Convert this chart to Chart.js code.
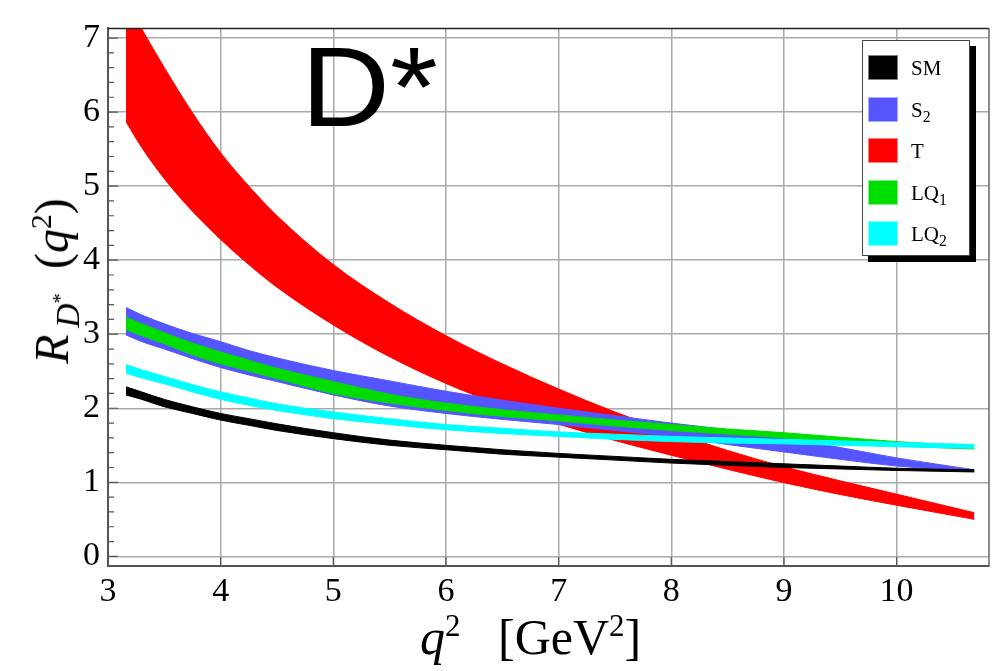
<!DOCTYPE html>
<html>
<head>
<meta charset="utf-8">
<script src="https://cdn.jsdelivr.net/npm/chart.js@4.4.1/dist/chart.umd.min.js"></script>
<style>
  body { margin: 0; background: #fff; }
  #wrap { position: relative; width: 995px; height: 671px; overflow: hidden; font-family: 'Liberation Serif', serif; }
  #chart { position: absolute; left: 0; top: 0; }
  .label { position: absolute; white-space: nowrap; color: #000; }
  #dstar { left: 301px; top: 30px; font-family: 'Liberation Sans', Arial, sans-serif; font-size: 114px; line-height: 1;
           transform: scaleX(1.08); transform-origin: left top; }
  #xtitle { left: 420px; top: 612px; font-size: 50px; line-height: 1; }
  #ytitle { left: 52px; top: 281px; font-size: 48px; line-height: 1; transform: translate(-50%, -50%) rotate(-90deg); }
  sup { font-size: 0.62em; line-height: 0; }
  sub { font-size: 0.7em; line-height: 0; }
  #legend { position: absolute; left: 862px; top: 40px; width: 106px; height: 214px; background: #fff;
            border: 1px solid #444; box-shadow: 6px 6px 0 #000; }
  .row { position: absolute; left: 5px; height: 26px; font-size: 21px; line-height: 26px; }
  .sw { position: absolute; left: 0; top: 0; width: 30px; height: 25px; box-sizing: border-box; border: 1px solid rgba(255,255,255,0.5); }
  .txt { position: absolute; left: 43px; top: 0; }
  .txt sub { font-size: 0.75em; }
</style>
</head>
<body>
<div id="wrap">
  <canvas id="chart" width="995" height="671"></canvas>
  <div class="label" id="dstar">D*</div>
  <div class="label" id="xtitle"><i>q</i><sup>2</sup>&nbsp;&nbsp;&nbsp;[GeV<sup>2</sup>]</div>
  <div class="label" id="ytitle"><i>R</i><sub>&thinsp;<i>D</i><sup>*</sup></sub>&nbsp;&nbsp;(<i>q</i><sup>2</sup>)</div>
  <div id="legend"></div>
</div>
<script>
// q^2 sample points (GeV^2)
const q2 = [3.16, 3.3, 3.5, 3.75, 4, 4.25, 4.5, 5, 5.5, 6, 6.5, 7, 7.5, 8, 8.5, 9, 9.5, 10, 10.69];

// band edges
const tUpper  = [7.5, 7.12, 6.6, 5.99, 5.45, 5.0, 4.6, 3.94, 3.42, 2.98, 2.6, 2.26, 1.95, 1.68, 1.43, 1.21, 1.02, 0.84, 0.59];
const tLower  = [5.87, 5.52, 5.1, 4.66, 4.28, 3.94, 3.635, 3.125, 2.695, 2.335, 2.035, 1.785, 1.565, 1.365, 1.175, 0.995, 0.835, 0.69, 0.5];
const s2Upper = [3.36, 3.26, 3.14, 3.01, 2.9, 2.78, 2.68, 2.51, 2.37, 2.23, 2.11, 2.0, 1.9, 1.8, 1.71, 1.6, 1.47, 1.33, 1.17];
const s2Lower = [2.99, 2.9, 2.8, 2.67, 2.55, 2.45, 2.36, 2.18, 2.03, 1.93, 1.85, 1.78, 1.7, 1.62, 1.51, 1.41, 1.31, 1.22, 1.15];
const lq1Upper = [3.23, 3.14, 3.02, 2.88, 2.76, 2.65, 2.54, 2.36, 2.19, 2.07, 1.98, 1.91, 1.84, 1.78, 1.72, 1.67, 1.61, 1.55, 1.49];
const lq1Lower = [3.06, 2.98, 2.87, 2.72, 2.6, 2.5, 2.4, 2.2, 2.07, 1.97, 1.89, 1.83, 1.76, 1.7, 1.65, 1.6, 1.54, 1.49, 1.45];
const lq2Upper = [2.59, 2.52, 2.43, 2.32, 2.22, 2.14, 2.06, 1.95, 1.86, 1.78, 1.73, 1.68, 1.65, 1.62, 1.6, 1.58, 1.56, 1.54, 1.51];
const lq2Lower = [2.47, 2.41, 2.33, 2.22, 2.12, 2.04, 1.97, 1.86, 1.78, 1.71, 1.66, 1.62, 1.58, 1.55, 1.53, 1.52, 1.5, 1.48, 1.46];
const smUpper = [2.29, 2.22, 2.12, 2.02, 1.93, 1.86, 1.79, 1.67, 1.57, 1.5, 1.44, 1.39, 1.35, 1.31, 1.28, 1.25, 1.22, 1.19, 1.17];
const smLower = [2.18, 2.12, 2.02, 1.93, 1.84, 1.77, 1.7, 1.59, 1.5, 1.44, 1.38, 1.34, 1.3, 1.26, 1.23, 1.2, 1.18, 1.16, 1.14];

const xTicks = [3, 4, 5, 6, 7, 8, 9, 10];
const yTicks = [0, 1, 2, 3, 4, 5, 6, 7];

// legend entries, same order as the picture
const models = [
    { name: 'SM',  html: 'SM',              color: '#000000', upper: smUpper,  lower: smLower,  order: 1 },
    { name: 'S2',  html: 'S<sub>2</sub>',   color: '#5555ff', upper: s2Upper,  lower: s2Lower,  order: 4 },
    { name: 'T',   html: 'T',               color: '#ff0000', upper: tUpper,   lower: tLower,   order: 5 },
    { name: 'LQ1', html: 'LQ<sub>1</sub>',  color: '#00dd00', upper: lq1Upper, lower: lq1Lower, order: 3 },
    { name: 'LQ2', html: 'LQ<sub>2</sub>',  color: '#00ffff', upper: lq2Upper, lower: lq2Lower, order: 2 }
];

function toPoints(values) {
    return q2.map((x, i) => ({ x: x, y: values[i] }));
}

// each band = lower edge + upper edge filled down to it
const datasets = [];
models.forEach(m => {
    datasets.push({
        label: m.name + ' lower',
        data: toPoints(m.lower),
        borderColor: m.color,
        borderWidth: 1,
        pointRadius: 0,
        fill: false,
        cubicInterpolationMode: 'monotone',
        order: m.order
    });
    datasets.push({
        label: m.name,
        data: toPoints(m.upper),
        borderColor: m.color,
        backgroundColor: m.color,
        borderWidth: 1,
        pointRadius: 0,
        fill: '-1',
        cubicInterpolationMode: 'monotone',
        order: m.order
    });
});

const tickFont = { family: 'Liberation Serif', size: 34 };

// frame on top/right and inward ticks, like the original
const framePlugin = {
    id: 'frame',
    afterDatasetsDraw(chart) {
        const { ctx, chartArea: a, scales } = chart;
        ctx.save();
        ctx.strokeStyle = '#555';
        ctx.lineWidth = 1.2;
        ctx.beginPath();
        for (let v = 0; v <= 7.01; v += 0.2) {
            const py = scales.y.getPixelForValue(v);
            const len = Math.abs(v - Math.round(v)) < 0.01 ? 10 : 6;
            ctx.moveTo(a.left, py);
            ctx.lineTo(a.left + len, py);
        }
        xTicks.forEach(v => {
            const px = scales.x.getPixelForValue(v);
            ctx.moveTo(px, a.bottom);
            ctx.lineTo(px, a.bottom - 9);
        });
        ctx.stroke();
        ctx.lineWidth = 1.5;
        ctx.strokeStyle = '#222';
        ctx.beginPath();
        ctx.moveTo(a.left, a.top);
        ctx.lineTo(a.right, a.top);
        ctx.stroke();
        ctx.strokeStyle = '#666';
        ctx.beginPath();
        ctx.moveTo(a.right, a.top);
        ctx.lineTo(a.right, a.bottom);
        ctx.stroke();
        ctx.restore();
    }
};

new Chart(document.getElementById('chart'), {
    type: 'line',
    data: { datasets: datasets },
    options: {
        responsive: false,
        animation: false,
        devicePixelRatio: 1,
        layout: { padding: { top: 22, right: 6, left: 0, bottom: 0 } },
        plugins: {
            legend: { display: false },
            tooltip: { enabled: false }
        },
        scales: {
            x: {
                type: 'linear',
                min: 3,
                max: 10.82,
                afterBuildTicks: s => { s.ticks = xTicks.map(v => ({ value: v })); },
                afterFit: s => { s.height = 105; },
                grid: { color: '#aaaaaa', lineWidth: 1.5, drawTicks: false },
                border: { color: '#555', width: 2 },
                ticks: { font: tickFont, color: '#000', padding: 6, maxRotation: 0 }
            },
            y: {
                min: -0.13,
                max: 7.13,
                afterBuildTicks: s => { s.ticks = yTicks.map(v => ({ value: v })); },
                afterFit: s => { s.width = 108; },
                grid: { color: '#aaaaaa', lineWidth: 1.5, drawTicks: false },
                border: { color: '#555', width: 2 },
                ticks: { font: tickFont, color: '#000', padding: 8 }
            }
        }
    },
    plugins: [framePlugin]
});

// legend box
const legend = document.getElementById('legend');
models.forEach((m, i) => {
    const row = document.createElement('div');
    row.className = 'row';
    row.style.top = (14 + i * 41.5) + 'px';
    row.innerHTML = '<div class="sw" style="background:' + m.color + '"></div><div class="txt">' + m.html + '</div>';
    legend.appendChild(row);
});
</script>
</body>
</html>
